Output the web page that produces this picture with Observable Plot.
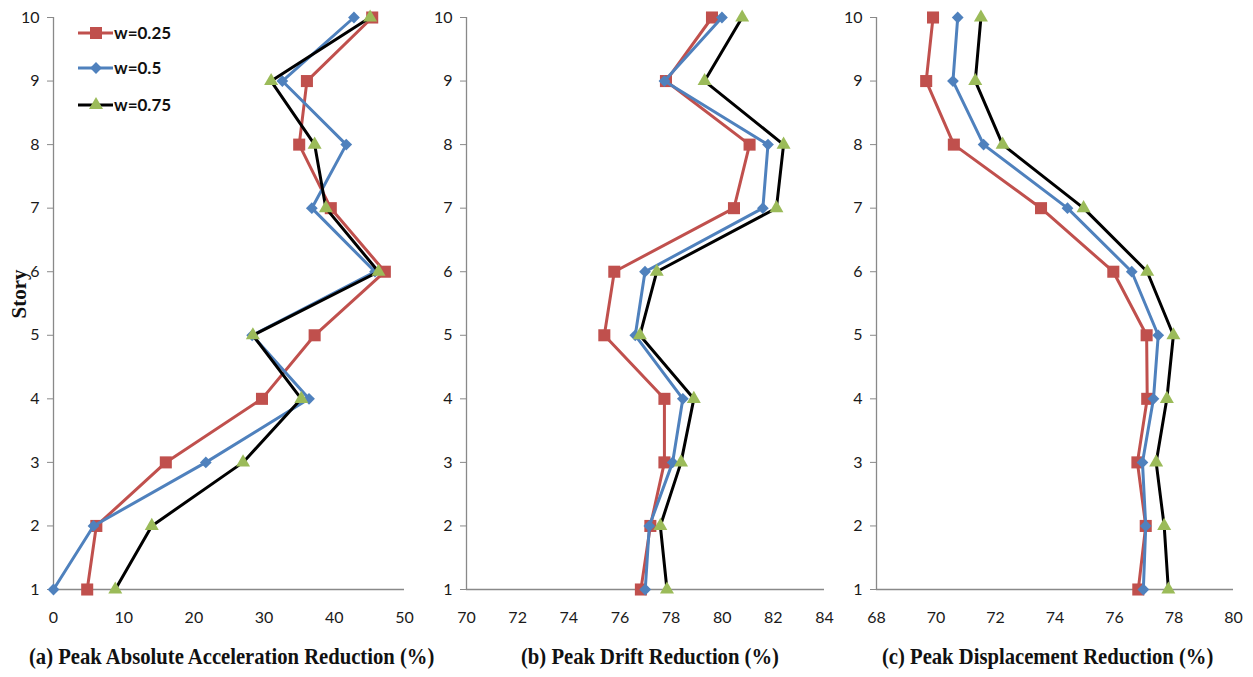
<!DOCTYPE html>
<html>
<head>
<meta charset="utf-8">
<script src="https://cdn.jsdelivr.net/npm/d3@7"></script>
<script src="https://cdn.jsdelivr.net/npm/@observablehq/plot@0.6"></script>
<style>
  html, body { margin: 0; padding: 0; background: #fff; }
  #wrap { position: relative; width: 1253px; height: 677px; background: #fff; overflow: hidden; }
  .panel { position: absolute; top: 0; }
  .panel svg text { font-size: 16px !important; font-family: Lato, sans-serif !important; }
  .cap { position: absolute; top: 643px; font-family: "Liberation Serif", serif; font-weight: bold; font-size: 24px; color: #111; white-space: nowrap; transform-origin: center; }
  #story { position: absolute; left: 19px; top: 294px; transform: translate(-50%, -50%) rotate(-90deg); font-family: "Liberation Serif", serif; font-weight: bold; font-size: 21px; color: #111; }
  #legend { position: absolute; left: 70px; top: 15px; }
</style>
</head>
<body>
<div id="wrap">
  <div id="pa" class="panel" style="left:0px"></div>
  <div id="pb" class="panel" style="left:413px"></div>
  <div id="pc" class="panel" style="left:823px"></div>
  <div id="story">Story</div>
  <div id="legend"></div>
  <div class="cap" id="ca"></div>
  <div class="cap" id="cb"></div>
  <div class="cap" id="cc"></div>
</div>
<script>
const stories = [1, 2, 3, 4, 5, 6, 7, 8, 9, 10];
const seriesNames = ["w=0.25", "w=0.5", "w=0.75"];

const accel025 = [4.8, 6.1, 16.0, 29.7, 37.2, 47.2, 39.5, 35.0, 36.1, 45.4];
const accel050 = [0.0, 5.7, 21.7, 36.4, 28.3, 45.8, 36.8, 41.7, 32.6, 42.8];
const accel075 = [8.8, 14.0, 27.0, 35.3, 28.4, 46.3, 38.8, 37.2, 31.0, 45.1];

const drift025 = [76.82, 77.19, 77.74, 77.74, 75.39, 75.78, 80.46, 81.07, 77.80, 79.60];
const drift050 = [76.99, 77.15, 78.06, 78.46, 76.60, 76.98, 81.59, 81.79, 77.74, 79.99];
const drift075 = [77.84, 77.58, 78.39, 78.89, 76.78, 77.44, 82.12, 82.40, 79.31, 80.78];

const disp025 = [76.80, 77.05, 76.77, 77.10, 77.08, 75.96, 73.53, 70.60, 69.67, 69.90];
const disp050 = [76.97, 77.05, 76.94, 77.31, 77.47, 76.58, 74.42, 71.60, 70.57, 70.73];
const disp075 = [77.81, 77.67, 77.40, 77.76, 77.98, 77.10, 74.96, 72.24, 71.32, 71.51];

const accelTicks = [0, 10, 20, 30, 40, 50];
const driftTicks = [70, 72, 74, 76, 78, 80, 82, 84];
const dispTicks = [68, 70, 72, 74, 76, 78, 80];

const captions = [
  "(a) Peak Absolute Acceleration Reduction (%)",
  "(b) Peak Drift Reduction (%)",
  "(c) Peak Displacement Reduction (%)"
];

const lineColors = ["#C0504D", "#4F81BD", "#000000"];
const markerColors = ["#C0504D", "#4F81BD", "#9BBB59"];
const symbols = ["square", "diamond2", "triangle"];
const radii = [6.8, 5.3, 5.2];
const axisGray = "#898989";

function panel(values, ticks, el, marginRight) {
  const marks = [
    Plot.ruleX([ticks[0]], {y1: 1, y2: 10, stroke: axisGray, strokeWidth: 1.3}),
    Plot.ruleY([1], {x1: ticks[0], x2: ticks[ticks.length - 1], stroke: axisGray, strokeWidth: 1.3}),
    Plot.axisY({ticks: stories, tickSize: 6, tickPadding: 8, stroke: axisGray, fill: "#1a1a1a", label: null}),
    Plot.axisX({ticks, tickSize: 0, tickPadding: 22, fill: "#1a1a1a", label: null})
  ];
  values.forEach((vals, i) => {
    const data = stories.map((s, j) => ({story: s, v: vals[j]}));
    marks.push(Plot.line(data, {x: "v", y: "story", stroke: lineColors[i], strokeWidth: 3, strokeLinejoin: "round"}));
    marks.push(Plot.dot(data, {x: "v", y: "story", symbol: symbols[i], r: radii[i], fill: markerColors[i], stroke: "none"}));
  });
  const chart = Plot.plot({
    width: 420, height: 640,
    marginLeft: 53, marginRight, marginTop: 17, marginBottom: 51,
    x: {domain: [ticks[0], ticks[ticks.length - 1]]},
    y: {domain: [1, 10]},
    style: {fontFamily: "Lato, sans-serif", fontSize: "16px", background: "transparent", overflow: "visible"},
    marks
  });
  document.getElementById(el).appendChild(chart);
}

panel([accel025, accel050, accel075], accelTicks, "pa", 16);
panel([drift025, drift050, drift075], driftTicks, "pb", 9);
panel([disp025, disp050, disp075], dispTicks, "pc", 10);

// captions
const capCenters = [232, 650, 1048];
["ca", "cb", "cc"].forEach((id, i) => {
  const d = document.getElementById(id);
  d.textContent = captions[i];
  const w = d.getBoundingClientRect().width;
  d.style.left = (capCenters[i] - w / 2) + "px";
  d.style.transform = "scaleX(0.86)";
});

// legend
const leg = d3.select("#legend");
const svg = leg.append("svg").attr("width", 140).attr("height", 110);
seriesNames.forEach((name, i) => {
  const y = [18, 53, 90][i];
  svg.append("line").attr("x1", 8).attr("x2", 43).attr("y1", y).attr("y2", y)
    .attr("stroke", lineColors[i]).attr("stroke-width", 3);
  const symType = [d3.symbolSquare, d3.symbolDiamond2, d3.symbolTriangle][i];
  svg.append("path").attr("d", d3.symbol(symType, Math.PI * radii[i] * radii[i])())
    .attr("transform", `translate(26,${y})`).attr("fill", markerColors[i]);
  svg.append("text").attr("x", 44).attr("y", y + 6).text(name)
    .attr("font-family", "Lato, sans-serif").attr("font-weight", "bold").attr("font-size", 17).attr("fill", "#111");
});
</script>
</body>
</html>
